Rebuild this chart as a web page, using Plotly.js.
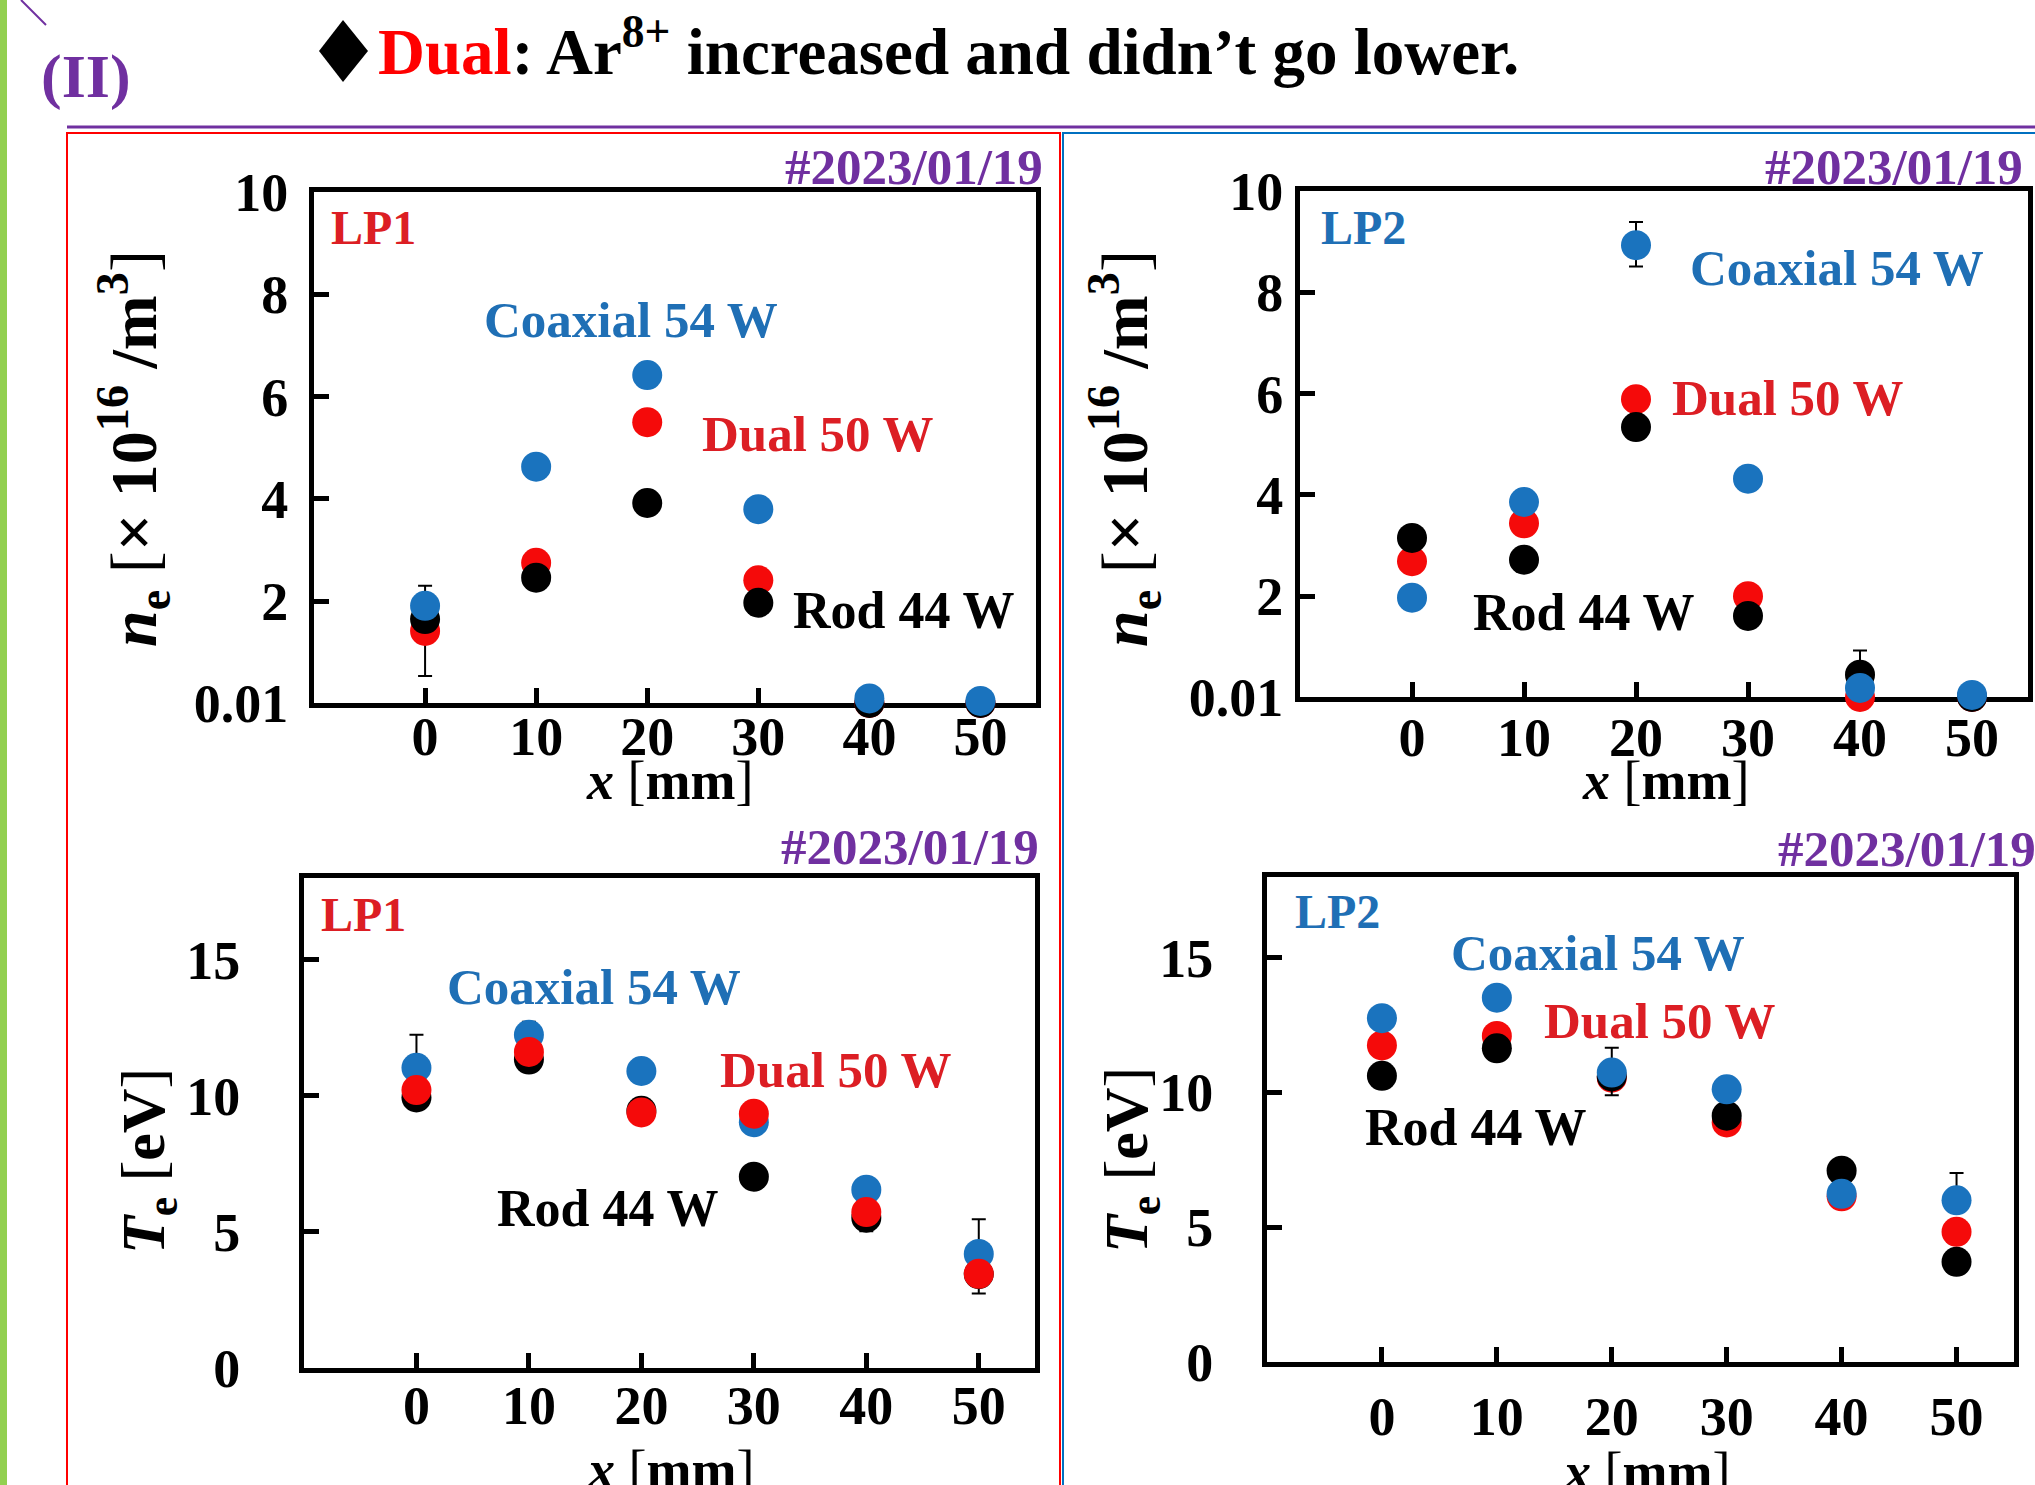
<!DOCTYPE html>
<html>
<head>
<meta charset="utf-8">
<script src="https://cdn.plot.ly/plotly-3.0.1.min.js"></script>
<style>
  html, body { margin: 0; padding: 0; background: #ffffff; }
  #chart { width: 2035px; height: 1485px; }
</style>
</head>
<body>
<div id="chart"></div>
<script>
// Probe positions [mm]
const positions = [0, 10, 20, 30, 40, 50];
const seriesNames = ['Coaxial 54 W', 'Dual 50 W', 'Rod 44 W'];
const probeNames = ['LP1', 'LP2'];
const shotDate = '#2023/01/19';

// Electron density n_e [x 10^16 /m^3]
const neLP1Coaxial = [1.91, 4.63, 6.42, 3.80, 0.10, 0.05];
const neLP1Dual    = [1.42, 2.75, 5.50, 2.41, 0.01, 0.01];
const neLP1Rod     = [1.65, 2.46, 3.92, 1.97, 0.01, 0.01];
const neLP1CoaxialErrUp  = [0.39, 0, 0, 0, 0, 0];
const neLP1DualErrDown   = [0.88, 0, 0, 0, 0, 0];

const neLP2Coaxial = [1.97, 3.86, 8.93, 4.32, 0.19, 0.05];
const neLP2Dual    = [2.69, 3.44, 5.89, 2.00, 0.01, 0.01];
const neLP2Rod     = [3.15, 2.72, 5.34, 1.61, 0.45, 0.01];
const neLP2CoaxialErrUp   = [0, 0, 0.46, 0, 0, 0];
const neLP2CoaxialErrDown = [0, 0, 0.42, 0, 0, 0];
const neLP2RodErrUp       = [0, 0, 0, 0, 0.48, 0];

// Electron temperature T_e [eV]
const teLP1Coaxial = [11.03, 12.24, 10.91, 9.03, 6.55, 4.19];
const teLP1Dual    = [10.21, 11.61, 9.39, 9.34, 5.73, 3.46];
const teLP1Rod     = [9.94, 11.33, 9.45, 7.03, 5.52, 3.45];
const teLP1CoaxialErrUp = [1.21, 0.48, 0, 0, 0, 1.27];
const teLP1DualErrDown  = [0, 0, 0, 0, 0, 0.72];
const teLP1RodErrDown   = [0, 0, 0, 0, 0.50, 0];

const teLP2Coaxial = [12.76, 13.52, 10.74, 10.12, 6.24, 6.00];
const teLP2Dual    = [11.75, 12.10, 10.55, 8.89, 6.15, 4.83];
const teLP2Rod     = [10.62, 11.64, 10.60, 9.14, 7.10, 3.72];
const teLP2CoaxialErrUp   = [0, 0, 0.92, 0, 0, 1.01];
const teLP2CoaxialErrDown = [0, 0, 0.84, 0, 0, 0];

// Axis ticks
const xTickVals  = [0, 10, 20, 30, 40, 50];
const neTickVals = [0.01, 2, 4, 6, 8, 10];
const neTickText = ['0.01', '2', '4', '6', '8', '10'];
const teTickVals = [0, 5, 10, 15];

// ---------------------------------------------------------------
const W = 2035, H = 1485;
const px = v => v / W;
const py = v => 1 - v / H;
const FONT = '"Liberation Serif", "Times New Roman", serif';
const BLUE = '#1a73be', RED = '#f50a0a', BLACK = '#000000';
const LABEL_BLUE = '#1f6fb5', LABEL_RED = '#dc1e24', PURPLE = '#7030a0';

function errorBars(up, down) {
  const n = positions.length;
  up = up || new Array(n).fill(0);
  down = down || new Array(n).fill(0);
  const a = [], am = [];
  for (let i = 0; i < n; i++) {
    if (up[i] === 0 && down[i] === 0) { a.push(NaN); am.push(NaN); }
    else { a.push(up[i]); am.push(down[i]); }
  }
  return { type: 'data', symmetric: false, array: a, arrayminus: am,
           color: '#000', thickness: 2, width: 7, visible: true };
}

function series(name, ys, color, xa, ya, err) {
  const t = {
    type: 'scatter', mode: 'markers', name: name,
    x: positions, y: ys, xaxis: xa, yaxis: ya,
    marker: { size: 30, color: color, line: { width: 0 } },
    cliponaxis: false, showlegend: false, hoverinfo: 'skip'
  };
  if (err) t.error_y = err;
  return t;
}

const data = [
  // LP1 density
  series(seriesNames[1], neLP1Dual, RED, 'x', 'y', errorBars(null, neLP1DualErrDown)),
  series(seriesNames[2], neLP1Rod, BLACK, 'x', 'y'),
  series(seriesNames[0], neLP1Coaxial, BLUE, 'x', 'y', errorBars(neLP1CoaxialErrUp, null)),
  // LP2 density
  series(seriesNames[1], neLP2Dual, RED, 'x2', 'y2'),
  series(seriesNames[2], neLP2Rod, BLACK, 'x2', 'y2', errorBars(neLP2RodErrUp, null)),
  series(seriesNames[0], neLP2Coaxial, BLUE, 'x2', 'y2', errorBars(neLP2CoaxialErrUp, neLP2CoaxialErrDown)),
  // LP1 temperature
  series(seriesNames[2], teLP1Rod, BLACK, 'x3', 'y3', errorBars(null, teLP1RodErrDown)),
  series(seriesNames[0], teLP1Coaxial, BLUE, 'x3', 'y3', errorBars(teLP1CoaxialErrUp, null)),
  series(seriesNames[1], teLP1Dual, RED, 'x3', 'y3', errorBars(null, teLP1DualErrDown)),
  // LP2 temperature
  series(seriesNames[1], teLP2Dual, RED, 'x4', 'y4'),
  series(seriesNames[2], teLP2Rod, BLACK, 'x4', 'y4'),
  series(seriesNames[0], teLP2Coaxial, BLUE, 'x4', 'y4', errorBars(teLP2CoaxialErrUp, teLP2CoaxialErrDown))
];

function axisStyle(extra) {
  return Object.assign({
    showline: true, linecolor: '#000', linewidth: 5, mirror: true,
    ticks: 'inside', ticklen: 15, tickwidth: 5, tickcolor: '#000',
    showgrid: false, zeroline: false, layer: 'below traces', fixedrange: true,
    tickmode: 'array', automargin: false,
    tickfont: { family: FONT, size: 54, color: '#000', weight: 'bold' }
  }, extra);
}

function xAxis(dom, anchor, labelOff) {
  return axisStyle({
    domain: dom, anchor: anchor, range: [-10, 55], tickvals: xTickVals,
    ticklabelstandoff: labelOff
  });
}
function yAxis(dom, anchor, range, vals, text, labelOff) {
  const a = axisStyle({
    domain: dom, anchor: anchor, range: range, tickvals: vals,
    ticklabelstandoff: labelOff
  });
  if (text) a.ticktext = text;
  return a;
}

// axis titles (drawn as annotations so they can sit at the panel edges)
const thin = s => '<span style="font-weight:normal">' + s + '</span>';
const xTitle = '<i>x</i> ' + thin('[') + 'mm' + thin(']');
const neTitle = '<i>n</i><sub>e</sub> ' + thin('[') + '× 10<sup>16</sup> /m<sup>3</sup>' + thin(']');
const teTitle = '<i>T</i><sub>e</sub> ' + thin('[') + 'eV' + thin(']');

function label(text, x, y, color, size, anchor) {
  return {
    text: text, xref: 'paper', yref: 'paper', x: px(x), y: py(y),
    xanchor: anchor || 'left', yanchor: 'middle', showarrow: false,
    font: { family: FONT, size: size || 51, color: color, weight: 'bold' }
  };
}
function axisTitle(text, x, y, size, angle) {
  const a = label(text, x, y, '#000', size, 'center');
  a.textangle = angle || 0;
  return a;
}

const annotations = [
  // heading
  {
    text: '<span style="color:#ff0000">Dual</span>: Ar<sup>8+</sup> increased and didn’t go lower.',
    xref: 'paper', yref: 'paper', x: px(376), y: py(90), xanchor: 'left', yanchor: 'bottom',
    showarrow: false, font: { family: FONT, size: 65, color: '#000', weight: 'bold' }
  },
  label('(II)', 86, 77, PURPLE, 62, 'center'),
  // axis titles
  axisTitle(xTitle, 669, 781, 54),
  axisTitle(xTitle, 1665, 781, 54),
  axisTitle(xTitle, 670, 1470, 54),
  axisTitle(xTitle, 1646, 1472, 54),
  axisTitle(neTitle, 133, 449, 66, -90),
  axisTitle(neTitle, 1124, 449, 66, -90),
  axisTitle(teTitle, 147, 1161, 62, -90),
  axisTitle(teTitle, 1130, 1160, 62, -90),
  // LP1 density panel
  label(probeNames[0], 329, 228, LABEL_RED, 48),
  label(seriesNames[0], 482, 320, LABEL_BLUE, 51),
  label(seriesNames[1], 700, 434, LABEL_RED, 51),
  label(seriesNames[2], 791, 610, BLACK, 52),
  label(shotDate, 1045, 167, PURPLE, 51, 'right'),
  // LP2 density panel
  label(probeNames[1], 1319, 228, LABEL_BLUE, 48),
  label(seriesNames[0], 1688, 268, LABEL_BLUE, 51),
  label(seriesNames[1], 1670, 398, LABEL_RED, 51),
  label(seriesNames[2], 1471, 613, BLACK, 52),
  label(shotDate, 2025, 167, PURPLE, 51, 'right'),
  // LP1 temperature panel
  label(probeNames[0], 319, 914, LABEL_RED, 48),
  label(seriesNames[0], 445, 987, LABEL_BLUE, 51),
  label(seriesNames[1], 718, 1070, LABEL_RED, 51),
  label(seriesNames[2], 495, 1208, BLACK, 52),
  label(shotDate, 1041, 847, PURPLE, 51, 'right'),
  // LP2 temperature panel
  label(probeNames[1], 1293, 912, LABEL_BLUE, 48),
  label(seriesNames[0], 1449, 953, LABEL_BLUE, 51),
  label(seriesNames[1], 1542, 1021, LABEL_RED, 51),
  label(seriesNames[2], 1363, 1127, BLACK, 52),
  label(shotDate, 1776, 849, PURPLE, 51)
];

// slide decorations: side bar, corner stroke, divider, panel frames, bullet
const diamond = 'M ' + px(343) + ' ' + py(20) + ' L ' + px(368) + ' ' + py(51) +
                ' L ' + px(343) + ' ' + py(82) + ' L ' + px(319) + ' ' + py(51) + ' Z';
const shapes = [
  { type: 'rect', xref: 'paper', yref: 'paper', x0: 0, x1: px(7), y0: 0, y1: 1,
    fillcolor: '#92d050', line: { width: 0 }, layer: 'below' },
  { type: 'line', xref: 'paper', yref: 'paper', x0: px(21), y0: py(0), x1: px(46), y1: py(25),
    line: { color: PURPLE, width: 2 } },
  { type: 'line', xref: 'paper', yref: 'paper', x0: px(67), y0: py(127), x1: 1, y1: py(127),
    line: { color: PURPLE, width: 3 } },
  { type: 'rect', xref: 'paper', yref: 'paper', x0: px(67), x1: px(1060), y0: py(1500), y1: py(133),
    line: { color: '#ff0000', width: 2 }, layer: 'below' },
  { type: 'rect', xref: 'paper', yref: 'paper', x0: px(1063), x1: px(2050), y0: py(1500), y1: py(133),
    line: { color: '#0070c0', width: 2 }, layer: 'below' },
  { type: 'path', xref: 'paper', yref: 'paper', path: diamond,
    fillcolor: '#000', line: { width: 0 } }
];

const layout = {
  width: W, height: H,
  margin: { l: 0, r: 0, t: 0, b: 0 },
  paper_bgcolor: '#ffffff', plot_bgcolor: 'rgba(0,0,0,0)',
  showlegend: false,
  font: { family: FONT, color: '#000' },
  xaxis:  xAxis([px(314), px(1036)], 'y', -18),
  yaxis:  yAxis([py(703), py(192)], 'x', [0.01, 10], neTickVals, neTickText, 10),
  xaxis2: xAxis([px(1300), px(2028)], 'y2', -11),
  yaxis2: yAxis([py(697), py(191)], 'x2', [0.01, 10], neTickVals, neTickText, 1),
  xaxis3: xAxis([px(304), px(1035)], 'y3', -14),
  yaxis3: yAxis([py(1368), py(878)], 'x3', [0, 18], teTickVals, null, 48),
  xaxis4: xAxis([px(1267), px(2014)], 'y4', 3),
  yaxis4: yAxis([py(1362), py(877)], 'x4', [0, 18], teTickVals, null, 38),
  annotations: annotations,
  shapes: shapes
};

Plotly.newPlot('chart', data, layout, { displayModeBar: false, staticPlot: true });
</script>
</body>
</html>
